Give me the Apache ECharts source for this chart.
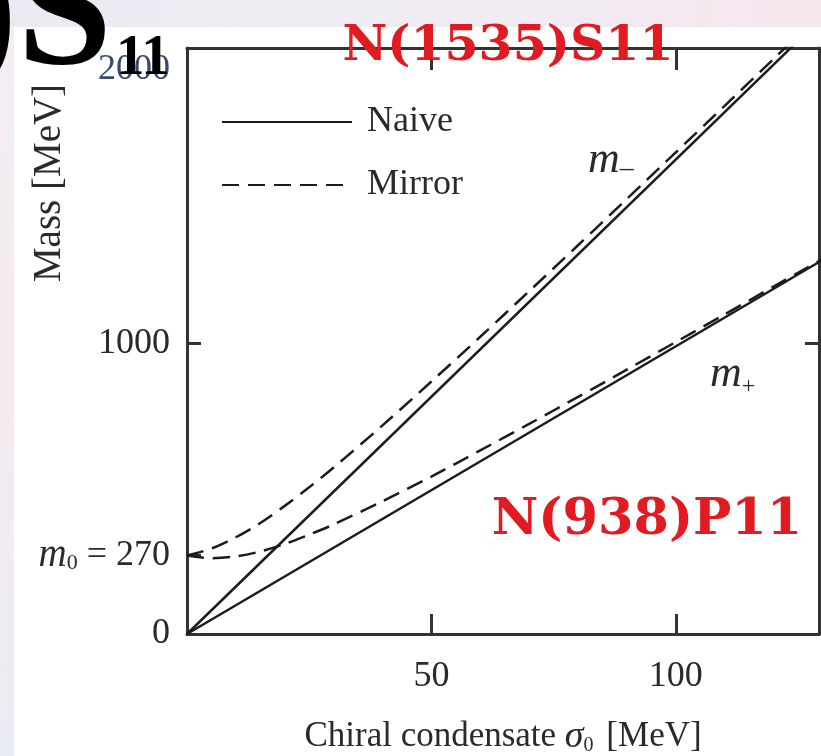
<!DOCTYPE html>
<html>
<head>
<meta charset="utf-8">
<style>
  html, body { margin: 0; padding: 0; background: #ffffff; }
  #chart { width: 821px; height: 756px; }
</style>
<script src="https://cdn.jsdelivr.net/npm/echarts@6/dist/echarts.min.js"></script>
</head>
<body>
<div id="chart"></div>
<script>
// Naive model: straight lines through the origin (sigma0, mass)
const naiveSigma = [0, 130];
const naiveMinus = [0, 2123];
const naivePlus = [0, 1287];

// Mirror model: both branches start at m0 = 270 MeV
const mirrorSigma = [0, 5, 10, 15, 20, 25, 30, 40, 50, 60, 70, 80, 90, 100, 110, 120, 125, 130];
const mirrorMinus = [270, 294, 333, 382, 441, 505, 573, 718, 869, 1023, 1180, 1338, 1498, 1658, 1818, 1979, 2060, 2140];
const mirrorPlus = [270, 261, 267, 284, 310, 342, 377, 457, 542, 632, 723, 816, 910, 1005, 1100, 1196, 1243, 1290];

// Axis ticks and labels
const xTickValues = [50, 100];
const yLabelValues = [0, 270, 1000, 2000];
const yTickValues = [270, 1000];
const rightTickValues = [1000];

const X_MAX = 129.3;
const Y_MAX = 2017;

const SERIF = "'Liberation Serif', 'Times New Roman', serif";
const INK = '#2a2a2a';
const LINE = '#1c1c1c';
const RED = '#e11b22';

function pairs(xs, ys) {
  return xs.map((x, i) => [x, ys[i]]);
}

const chart = echarts.init(document.getElementById('chart'), null, { renderer: 'canvas' });

const axisLine = { show: true, onZero: false, lineStyle: { color: '#333', width: 3 } };

chart.setOption({
  backgroundColor: '#ffffff',
  animation: false,
  grid: { left: 187, right: 2, top: 48, bottom: 122, containLabel: false, outerBoundsMode: 'none' },
  legend: {
    orient: 'vertical',
    left: 216,
    top: 97,
    itemWidth: 130,
    itemHeight: 12,
    itemGap: 23,
    data: ['Naive', 'Mirror'],
    itemStyle: { opacity: 0 },
    textStyle: { fontFamily: SERIF, fontSize: 36, color: INK, lineHeight: 40, padding: [0, 0, 0, 10] }
  },
  xAxis: [
    {
      type: 'value', min: 0, max: X_MAX, position: 'bottom',
      axisLine: axisLine,
      splitLine: { show: false },
      axisTick: { show: true, inside: true, length: 20, customValues: xTickValues, lineStyle: { color: '#333', width: 3 } },
      axisLabel: { show: true, customValues: xTickValues, fontFamily: SERIF, fontSize: 36, color: INK, margin: 25 },
      name: 'Chiral condensate {i|σ}{s|0} [MeV]',
      nameLocation: 'middle',
      nameGap: 84,
      nameTextStyle: {
        fontFamily: SERIF, fontSize: 35, color: INK,
        rich: {
          i: { fontFamily: SERIF, fontStyle: 'italic', fontSize: 38, color: INK },
          s: { fontFamily: SERIF, fontSize: 20, color: INK, padding: [18, 4, 0, 0] }
        }
      }
    },
    {
      type: 'value', min: 0, max: X_MAX, position: 'top',
      axisLine: axisLine,
      splitLine: { show: false },
      axisTick: { show: true, inside: true, length: 22, customValues: xTickValues, lineStyle: { color: '#333', width: 3 } },
      axisLabel: { show: false }
    }
  ],
  yAxis: [
    {
      type: 'value', min: 0, max: Y_MAX, position: 'left',
      axisLine: axisLine,
      splitLine: { show: false },
      axisTick: { show: true, inside: true, length: 14, customValues: yTickValues, lineStyle: { color: '#333', width: 3 } },
      axisLabel: {
        show: true, customValues: yLabelValues, margin: 17,
        fontFamily: SERIF, fontSize: 36, color: INK,
        formatter: function (v) {
          if (v === 270) return '{m|m}{s|0}{n| = 270}';
          if (v === 2000) return '{low|2000}';
          return String(v);
        },
        rich: {
          m: { fontFamily: SERIF, fontStyle: 'italic', fontSize: 39, color: INK },
          s: { fontFamily: SERIF, fontSize: 22, color: INK, padding: [16, 0, 0, 0] },
          n: { fontFamily: SERIF, fontSize: 36, color: INK },
          low: { fontFamily: SERIF, fontSize: 36, color: '#3a4a6a', padding: [34, 0, 0, 0] }
        }
      }
    },
    {
      type: 'value', min: 0, max: Y_MAX, position: 'right',
      axisLine: axisLine,
      splitLine: { show: false },
      axisTick: { show: true, inside: true, length: 14, customValues: rightTickValues, lineStyle: { color: '#333', width: 3 } },
      axisLabel: { show: false }
    }
  ],
  series: [
    {
      name: 'Naive', type: 'line', xAxisIndex: 0, yAxisIndex: 0,
      data: pairs(naiveSigma, naiveMinus), symbol: 'none', clip: true,
      lineStyle: { color: LINE, width: 2.5, type: 'solid' }, itemStyle: { color: LINE }
    },
    {
      name: 'Naive', type: 'line', xAxisIndex: 0, yAxisIndex: 0,
      data: pairs(naiveSigma, naivePlus), symbol: 'none', clip: true,
      lineStyle: { color: LINE, width: 2.5, type: 'solid' }, itemStyle: { color: LINE }
    },
    {
      name: 'Mirror', type: 'line', xAxisIndex: 0, yAxisIndex: 0, smooth: 0.3,
      data: pairs(mirrorSigma, mirrorMinus), symbol: 'none', clip: true,
      lineStyle: { color: LINE, width: 2.5, type: [17, 9] }, itemStyle: { color: LINE }
    },
    {
      name: 'Mirror', type: 'line', xAxisIndex: 0, yAxisIndex: 0, smooth: 0.3,
      data: pairs(mirrorSigma, mirrorPlus), symbol: 'none', clip: true,
      lineStyle: { color: LINE, width: 2.5, type: [17, 9] }, itemStyle: { color: LINE }
    }
  ],
  graphic: [
    // slide backdrop strip along the top edge
    {
      type: 'rect', z: -10, shape: { x: 0, y: 0, width: 821, height: 27 },
      style: { fill: new echarts.graphic.LinearGradient(0, 0, 1, 0, [
        { offset: 0, color: '#ebeaf2' }, { offset: 0.6, color: '#f1ecf3' }, { offset: 1, color: '#f6e6ee' }
      ]) }
    },
    {
      type: 'rect', z: -10, shape: { x: 0, y: 27, width: 14, height: 729 },
      style: { fill: new echarts.graphic.LinearGradient(0, 0, 0, 1, [
        { offset: 0, color: '#f3eef4' }, { offset: 0.5, color: '#f6e9ef' }, { offset: 1, color: '#e9ecf5' }
      ]) }
    },
    // y-axis title
    {
      type: 'text', z: 50, x: 50, y: 183, rotation: Math.PI / 2,
      style: { text: 'Mass [MeV]', fontFamily: SERIF, fontSize: 39, fill: INK, align: 'center', verticalAlign: 'middle' }
    },
    // branch labels
    {
      type: 'text', z: 50, x: 588, y: 160,
      style: {
        text: '{m|m}{s|–}', verticalAlign: 'middle', align: 'left',
        rich: {
          m: { fontFamily: SERIF, fontStyle: 'italic', fontSize: 44, fill: INK },
          s: { fontFamily: SERIF, fontSize: 28, fill: INK, padding: [18, 0, 0, 0] }
        }
      }
    },
    {
      type: 'text', z: 50, x: 710, y: 374,
      style: {
        text: '{m|m}{s|+}', verticalAlign: 'middle', align: 'left',
        rich: {
          m: { fontFamily: SERIF, fontStyle: 'italic', fontSize: 44, fill: INK },
          s: { fontFamily: SERIF, fontSize: 24, fill: INK, padding: [26, 0, 0, 0] }
        }
      }
    },
    // slide headings over the plot
    {
      type: 'text', z: 100, x: 112, y: 19,
      style: { text: '5)S', fontFamily: SERIF, fontWeight: 'bold', fontSize: 170, fill: '#000', align: 'right', verticalAlign: 'middle' }
    },
    {
      type: 'text', z: 100, x: 116, y: 59,
      style: { text: '11', fontFamily: SERIF, fontWeight: 'bold', fontSize: 57, fill: '#000', align: 'left', verticalAlign: 'middle' }
    },
    {
      type: 'text', z: 100, x: 508, y: 47,
      style: { text: 'N(1535)S11', fontFamily: "'DejaVu Serif', serif", fontWeight: 'bold', fontSize: 49, fill: RED, align: 'center', verticalAlign: 'middle' }
    },
    {
      type: 'text', z: 100, x: 647, y: 521,
      style: { text: 'N(938)P11', fontFamily: "'DejaVu Serif', serif", fontWeight: 'bold', fontSize: 51, fill: RED, align: 'center', verticalAlign: 'middle' }
    }
  ]
});
</script>
</body>
</html>
